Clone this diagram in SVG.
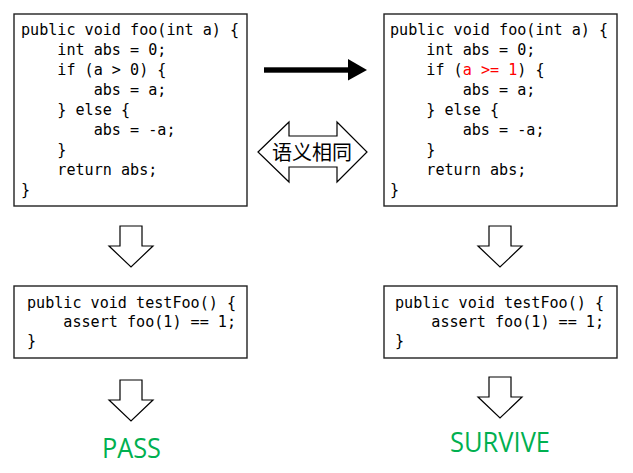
<svg xmlns="http://www.w3.org/2000/svg" width="633" height="473" viewBox="0 0 633 473">
  <style>
    .box { fill: #ffffff; stroke: #222222; stroke-width: 1.4; }
    .code { font-family: "DejaVu Sans Mono", "Liberation Mono", monospace; font-size: 15.1px; fill: #000000; white-space: pre; }
    .red { fill: #ff0000; }
    .hollow { fill: #ffffff; stroke: #000000; stroke-width: 1.2; stroke-linejoin: miter; }
    .result { font-family: "Open Sans", "Noto Sans", "Liberation Sans", sans-serif; font-size: 27px; fill: #00b050; }
    .cjk { font-family: "Noto Sans CJK SC", "Noto Sans", sans-serif; font-size: 20px; fill: #000000; }
  </style>
  <defs>
    <!-- hollow down block arrow, origin at shaft top centre -->
    <path id="downArrow" class="hollow" d="M -11 0 L 11 0 L 11 20 L 22 20 L 0 41 L -22 20 L -11 20 Z"/>
  </defs>

  <!-- original method -->
  <g id="original">
    <rect class="box" x="14" y="14" width="233" height="192"/>
    <text class="code" x="21" y="35" xml:space="preserve">public void foo(int a) {</text>
    <text class="code" x="21" y="55" xml:space="preserve">    int abs = 0;</text>
    <text class="code" x="21" y="75" xml:space="preserve">    if (a &gt; 0) {</text>
    <text class="code" x="21" y="95" xml:space="preserve">        abs = a;</text>
    <text class="code" x="21" y="115" xml:space="preserve">    } else {</text>
    <text class="code" x="21" y="135" xml:space="preserve">        abs = -a;</text>
    <text class="code" x="21" y="155" xml:space="preserve">    }</text>
    <text class="code" x="21" y="175" xml:space="preserve">    return abs;</text>
    <text class="code" x="21" y="195" xml:space="preserve">}</text>
  </g>

  <!-- mutated method -->
  <g id="mutant">
    <rect class="box" x="384" y="14" width="233" height="192"/>
    <text class="code" x="390" y="35" xml:space="preserve">public void foo(int a) {</text>
    <text class="code" x="390" y="55" xml:space="preserve">    int abs = 0;</text>
    <text class="code" x="390" y="75" xml:space="preserve">    if (<tspan class="red">a &gt;= 1</tspan>) {</text>
    <text class="code" x="390" y="95" xml:space="preserve">        abs = a;</text>
    <text class="code" x="390" y="115" xml:space="preserve">    } else {</text>
    <text class="code" x="390" y="135" xml:space="preserve">        abs = -a;</text>
    <text class="code" x="390" y="155" xml:space="preserve">    }</text>
    <text class="code" x="390" y="175" xml:space="preserve">    return abs;</text>
    <text class="code" x="390" y="195" xml:space="preserve">}</text>
  </g>

  <!-- test on original -->
  <g id="testOriginal">
    <rect class="box" x="14" y="286" width="233" height="72"/>
    <text class="code" x="27" y="308" xml:space="preserve">public void testFoo() {</text>
    <text class="code" x="27" y="327" xml:space="preserve">    assert foo(1) == 1;</text>
    <text class="code" x="27" y="346" xml:space="preserve">}</text>
  </g>

  <!-- test on mutant -->
  <g id="testMutant">
    <rect class="box" x="384" y="286" width="233" height="72"/>
    <text class="code" x="395" y="308" xml:space="preserve">public void testFoo() {</text>
    <text class="code" x="395" y="327" xml:space="preserve">    assert foo(1) == 1;</text>
    <text class="code" x="395" y="346" xml:space="preserve">}</text>
  </g>

  <!-- outcomes -->
  <g id="pass">
    <text class="result" x="102" y="458" textLength="59" lengthAdjust="spacingAndGlyphs">PASS</text>
  </g>
  <g id="survive">
    <text class="result" x="450" y="452" textLength="100" lengthAdjust="spacingAndGlyphs">SURVIVE</text>
  </g>

  <!-- semantic equivalence marker -->
  <g id="equivalent">
    <path class="hollow" d="M 258 152 L 289 122 L 289 136 L 337 136 L 337 122 L 367 152 L 337 182 L 337 167 L 289 167 L 289 182 Z"/>
    <text class="cjk" x="312" y="160" text-anchor="middle">语义相同</text>
  </g>

  <!-- connectors -->
  <g id="connectors">
    <g id="mutate">
      <rect x="264" y="67.3" width="85" height="5.4" fill="#000000"/>
      <path d="M 348 59 L 367 70 L 348 80.5 Z" fill="#000000"/>
    </g>
    <use href="#downArrow" x="131" y="226"/>
    <use href="#downArrow" x="500" y="226"/>
    <use href="#downArrow" x="131" y="380"/>
    <use href="#downArrow" x="500" y="377"/>
  </g>
</svg>
